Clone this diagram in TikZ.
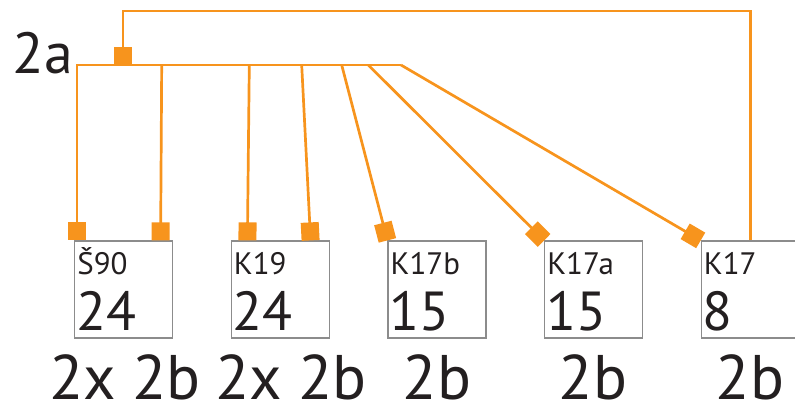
\documentclass[tikz,border=0pt]{standalone}
\usepackage{fontspec}
\setmainfont{PT Sans}
\usetikzlibrary{arrows.meta,calc}
\definecolor{cable}{HTML}{F7941D}
\definecolor{frame}{HTML}{8C8C8C}
\definecolor{ink}{HTML}{231F20}

\begin{document}
\begin{tikzpicture}[x=1pt, y=-1pt,
    box/.style = {draw=frame, line width=1.2pt, minimum width=98pt, minimum height=97pt, inner sep=0pt},
    tag/.style = {text=ink, inner sep=0pt, anchor=base west, font=\fontsize{31}{31}\selectfont},
    count/.style = {text=ink, inner sep=0pt, anchor=base west, font=\fontsize{55}{55}\selectfont},
    pairs/.style = {text=ink, inner sep=0pt, text depth=0pt, anchor=base, font=\fontsize{63}{63}\selectfont},
    wire/.style = {draw=cable, line width=2.7pt},
    tap/.style = {wire, -{Square[length=18pt,width=18pt]}}]

    \clip[use as bounding box] (0,0) rectangle (795,407);

    \node[box] (s90) at (123.7,289.5) {};
    \node[box] (k19) at (280.3,289.5) {};
    \node[box] (k17b) at (437,289.5) {};
    \node[box] (k17a) at (593.7,289.5) {};
    \node[box] (k17) at (750.3,289.5) {};

    \node[tag] (s90n) at ($(s90.north west)+(3,34)$) {Š90};
    \node[tag] (k19n) at ($(k19.north west)+(3,34)$) {K19};
    \node[tag] (k17bn) at ($(k17b.north west)+(3,34)$) {K17b};
    \node[tag] (k17an) at ($(k17a.north west)+(3,34)$) {K17a};
    \node[tag] (k17n) at ($(k17.north west)+(3,34)$) {K17};

    \node[count] (s90c) at ($(s90.south west)+(2,-8)$) {24};
    \node[count] (k19c) at ($(k19.south west)+(2,-8)$) {24};
    \node[count] (k17bc) at ($(k17b.south west)+(2,-8)$) {15};
    \node[count] (k17ac) at ($(k17a.south west)+(2,-8)$) {15};
    \node[count] (k17c) at ($(k17.south west)+(2,-8)$) {8};

    \node[pairs] (s90p) at (125,399) {2x 2b};
    \node[pairs] (k19p) at (291,399) {2x 2b};
    \node[pairs] (k17bp) at (437,399) {2b};
    \node[pairs] (k17ap) at (593,399) {2b};
    \node[pairs] (k17p) at (750,399) {2b};

    \node[pairs, anchor=base east, font=\fontsize{58}{58}\selectfont] (feed) at (73,73) {2a};

    \coordinate (busL) at (77,65);
    \coordinate (busR) at (401,65);
    \coordinate (jn) at (123,65);
    \coordinate (ret) at (123,11);
    \coordinate (tapB) at (161.7,65);
    \coordinate (tapC) at (249.3,65);
    \coordinate (tapD) at (301.7,65);
    \coordinate (tapE) at (341.7,65);
    \coordinate (tapF) at (368.3,65);

    \draw[tap] (busR) -- (busL) -- (busL |- s90.north);
    \draw[tap] (tapB) -- ($(s90.north east)+(-12.7,0)$);
    \draw[tap] (tapC) -- ($(k19.north west)+(16.7,0)$);
    \draw[tap] (tapD) -- ($(k19.north east)+(-19.3,0)$);
    \draw[tap] (tapE) -- (k17b.north west);
    \draw[tap] (tapF) -- (k17a.north west);
    \draw[tap] (busR) -- (k17.north west);
    \draw[tap] (k17.north) |- (ret) -- (jn);

\end{tikzpicture}
\end{document}
